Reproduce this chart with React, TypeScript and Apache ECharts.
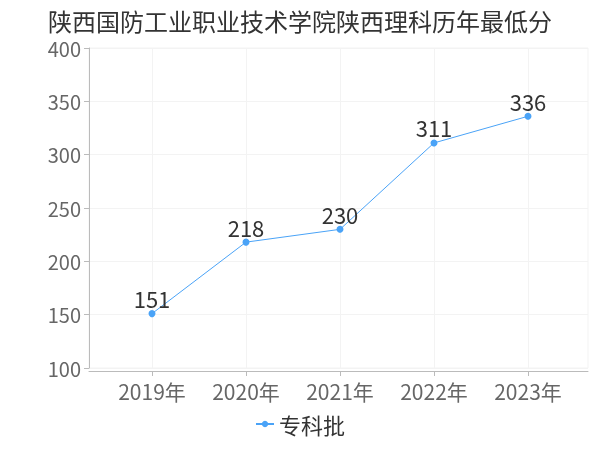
import React, { useEffect, useRef } from "react";
import * as echarts from "echarts";

const title = "陕西国防工业职业技术学院陕西理科历年最低分";
const categories = ["2019年", "2020年", "2021年", "2022年", "2023年"];
const seriesName = "专科批";
const values = [151, 218, 230, 311, 336];
const yTicks = { min: 100, max: 400, interval: 50 };

export default function App() {
  const ref = useRef<HTMLDivElement>(null);
  useEffect(() => {
    const chart = echarts.init(ref.current!, null, { renderer: "svg" });
    const font = "'Noto Sans CJK SC', 'Noto Sans', sans-serif";
    const split = { show: true, lineStyle: { color: "#f3f3f3" } };
    chart.setOption({
      animation: false,
      textStyle: { fontFamily: font },
      title: {
        text: title,
        left: "center",
        top: 3,
        padding: [5, 5, 2, 5],
        textStyle: { fontSize: 24, lineHeight: 24, fontWeight: "normal", color: "#333", fontFamily: font },
      },
      legend: {
        data: [seriesName],
        bottom: 10,
        left: "center",
        itemWidth: 18,
        itemHeight: 8,
        textStyle: { fontSize: 22, color: "#333", fontFamily: font },
      },
      grid: [
        { left: 89, right: 12, top: 48, bottom: 82, show: true, borderColor: "#f3f3f3", borderWidth: 1 },
        { left: 152, right: 72, top: 48, bottom: 82 },
      ],
      xAxis: [
        {
          type: "value",
          gridIndex: 0,
          min: 0,
          max: 1,
          offset: 3,
          axisLine: { show: true, onZero: false, lineStyle: { color: "#bbb" } },
          axisTick: { show: false },
          axisLabel: { show: false },
          splitLine: { show: false },
        },
        {
          type: "category",
          gridIndex: 1,
          data: categories,
          boundaryGap: false,
          offset: 3,
          axisLine: { show: false },
          axisTick: { show: true, length: 5, lineStyle: { color: "#bbb" } },
          axisLabel: { fontSize: 21, color: "#666", margin: 9, fontFamily: font },
          splitLine: split,
        },
      ],
      yAxis: [
        {
          type: "value",
          gridIndex: 0,
          ...yTicks,
          axisLine: { show: true, onZero: false, lineStyle: { color: "#bbb" } },
          axisTick: { show: true, lineStyle: { color: "#bbb" } },
          axisLabel: { fontSize: 20, lineHeight: 16, color: "#666", margin: 8, fontFamily: font },
          splitLine: split,
        },
        {
          type: "value",
          gridIndex: 1,
          ...yTicks,
          axisLine: { show: false },
          axisTick: { show: false },
          axisLabel: { show: false },
          splitLine: { show: false },
        },
      ],
      series: [
        {
          name: seriesName,
          type: "line",
          xAxisIndex: 1,
          yAxisIndex: 1,
          data: values,
          symbol: "circle",
          symbolSize: 7,
          itemStyle: { color: "#4aa3f7" },
          lineStyle: { color: "#4aa3f7", width: 1 },
          label: {
            show: true,
            position: "top",
            distance: 1,
            fontSize: 22,
            color: "#333",
            fontFamily: font,
          },
        },
      ],
    });
    return () => chart.dispose();
  }, []);
  return (
    <div
      ref={ref}
      style={{ position: "fixed", left: 0, top: 0, width: 600, height: 450 }}
    />
  );
}
